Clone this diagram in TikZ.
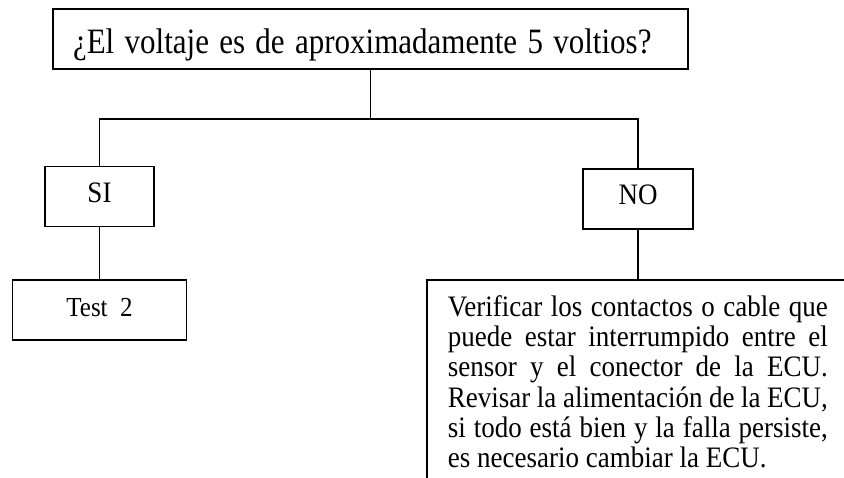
\documentclass[tikz,border=0pt]{standalone}
\usepackage{fontspec}
\usepackage{graphicx}
\setmainfont{Liberation Serif}
\usetikzlibrary{positioning}
\newcommand{\talltext}[2][1.1]{\scalebox{1}[#1]{#2}}

\begin{document}
\begin{tikzpicture}[
    x=1pt, y=-1pt,
    box/.style={rectangle, draw=black, line width=1.8pt, minimum height=60pt,
                inner sep=0pt, text height=20pt, text depth=8.5pt,
                font=\fontsize{27}{30}\selectfont},
    link/.style={line width=1.8pt, black}
  ]
    \useasboundingbox (0,0) rectangle (844,478);
    \clip (0,0) rectangle (844,478);

    \node[box, text width=595pt, inner xsep=20pt, align=left,
          text height=30pt, text depth=0pt,
          font=\fontsize{31}{36}\selectfont] (question) at (370.5,39)
          {\talltext[1.15]{¿El voltaje es de aproximadamente 5 voltios?}};
    \node[box, minimum width=109pt] (si) at (99.5,196.5) {\talltext{SI}};
    \node[box, minimum width=110pt] (no) at (638,199) {\talltext{NO}};
    \node[box, minimum width=174pt, below=52pt of si,
          font=\fontsize{25}{30}\selectfont] (test2) {\talltext{Test~~2}};
    \node[box, anchor=north west, text height=, text depth=, inner xsep=21pt,
          inner ysep=15.5pt] (action) at (426,279)
          {\talltext{\parbox[t]{380pt}{\fontsize{27}{27.5}\selectfont\hyphenpenalty=10000
           Verificar los contactos o cable que\linebreak
           puede estar interrumpido entre el\linebreak
           sensor y el conector de la ECU.\linebreak
           Revisar la alimentación de la ECU,\linebreak
           si todo está bien y la falla persiste,\linebreak
           es necesario cambiar la ECU.}}};

    \draw[link] (question.south) -- ++(0,49) coordinate (split);
    \draw[link] (si.north) |- (split) -| (no.north);
    \draw[link] (si.south) -- (test2.north);
    \draw[link] (no.south) -- (no.south |- action.north);
  \end{tikzpicture}
\end{document}
